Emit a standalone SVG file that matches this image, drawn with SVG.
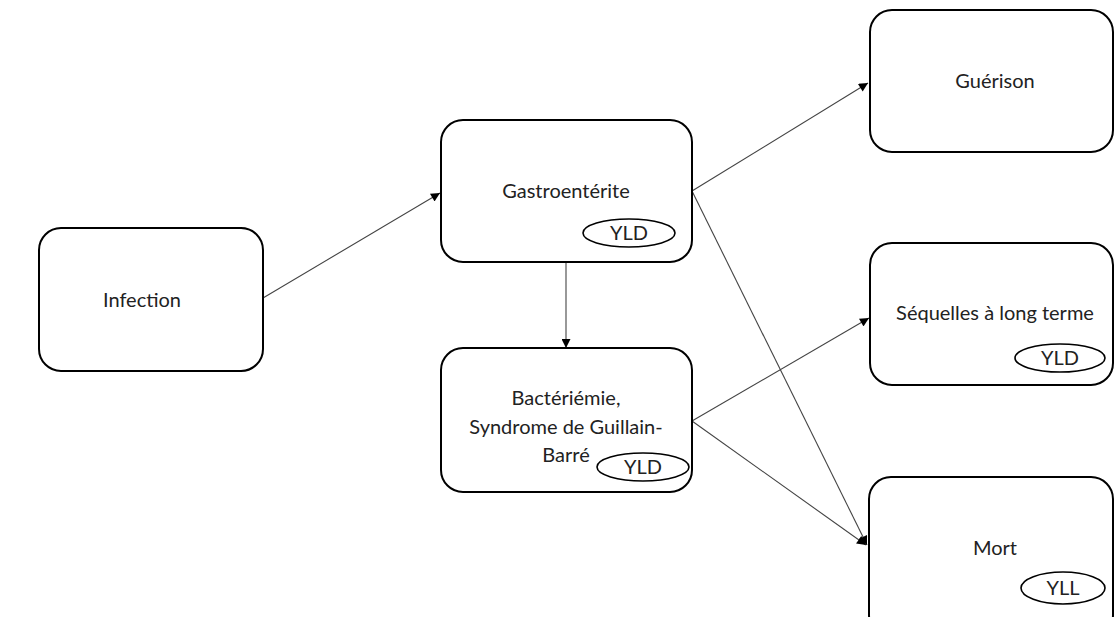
<svg xmlns="http://www.w3.org/2000/svg" width="1115" height="617" viewBox="0 0 1115 617">
<style>
.box{fill:#fff;stroke:#000;stroke-width:2}
.tag{fill:#fff;stroke:#000;stroke-width:1.6}
.lbl{font-family:Lato,"Liberation Sans",sans-serif;font-size:20px;fill:#222;text-anchor:middle}
.con{stroke:#444;stroke-width:1.1;fill:none;marker-end:url(#ah)}
</style>
<defs>
<marker id="ah" viewBox="0 0 10 10" refX="10" refY="5" markerWidth="10" markerHeight="9" markerUnits="userSpaceOnUse" orient="auto">
<path d="M0,0 L10,5 L0,10 z" fill="#000"/>
</marker>
</defs>
<rect width="1115" height="617" fill="#fff"/>
<g id="connectors">
<line class="con" x1="263" y1="298" x2="440" y2="193"/>
<line class="con" x1="692" y1="191" x2="868" y2="83"/>
<line class="con" x1="566" y1="262" x2="566" y2="348"/>
<line class="con" x1="692" y1="191" x2="867" y2="545"/>
<line class="con" x1="692" y1="421" x2="869" y2="318"/>
<line class="con" x1="692" y1="421" x2="866" y2="545"/>
</g>
<g id="infection">
<rect class="box" x="39" y="228" width="224" height="143" rx="22"/>
<text class="lbl" x="142" y="307">Infection</text>
</g>
<g id="gastro">
<rect class="box" x="441" y="120" width="251" height="142" rx="22"/>
<text class="lbl" x="566" y="198">Gastroentérite</text>
<ellipse class="tag" cx="629" cy="233" rx="46" ry="14"/>
<text class="lbl" x="629" y="240">YLD</text>
</g>
<g id="bacteriemie">
<rect class="box" x="441" y="348" width="251" height="144" rx="22"/>
<text class="lbl" x="566" y="405">Bactériémie,</text>
<text class="lbl" x="566" y="434">Syndrome de Guillain-</text>
<text class="lbl" x="566" y="462">Barré</text>
<ellipse class="tag" cx="643" cy="467" rx="46" ry="14"/>
<text class="lbl" x="643" y="474">YLD</text>
</g>
<g id="guerison">
<rect class="box" x="870" y="10" width="243" height="142" rx="22"/>
<text class="lbl" x="995" y="88">Guérison</text>
</g>
<g id="sequelles">
<rect class="box" x="870" y="243" width="243" height="142" rx="22"/>
<text class="lbl" x="995" y="320">Séquelles à long terme</text>
<ellipse class="tag" cx="1060" cy="358" rx="45" ry="14"/>
<text class="lbl" x="1060" y="365">YLD</text>
</g>
<g id="mort">
<rect class="box" x="869" y="477" width="244" height="160" rx="22"/>
<text class="lbl" x="995" y="555">Mort</text>
<ellipse class="tag" cx="1063" cy="588" rx="42" ry="16"/>
<text class="lbl" x="1063" y="595">YLL</text>
</g>
</svg>
